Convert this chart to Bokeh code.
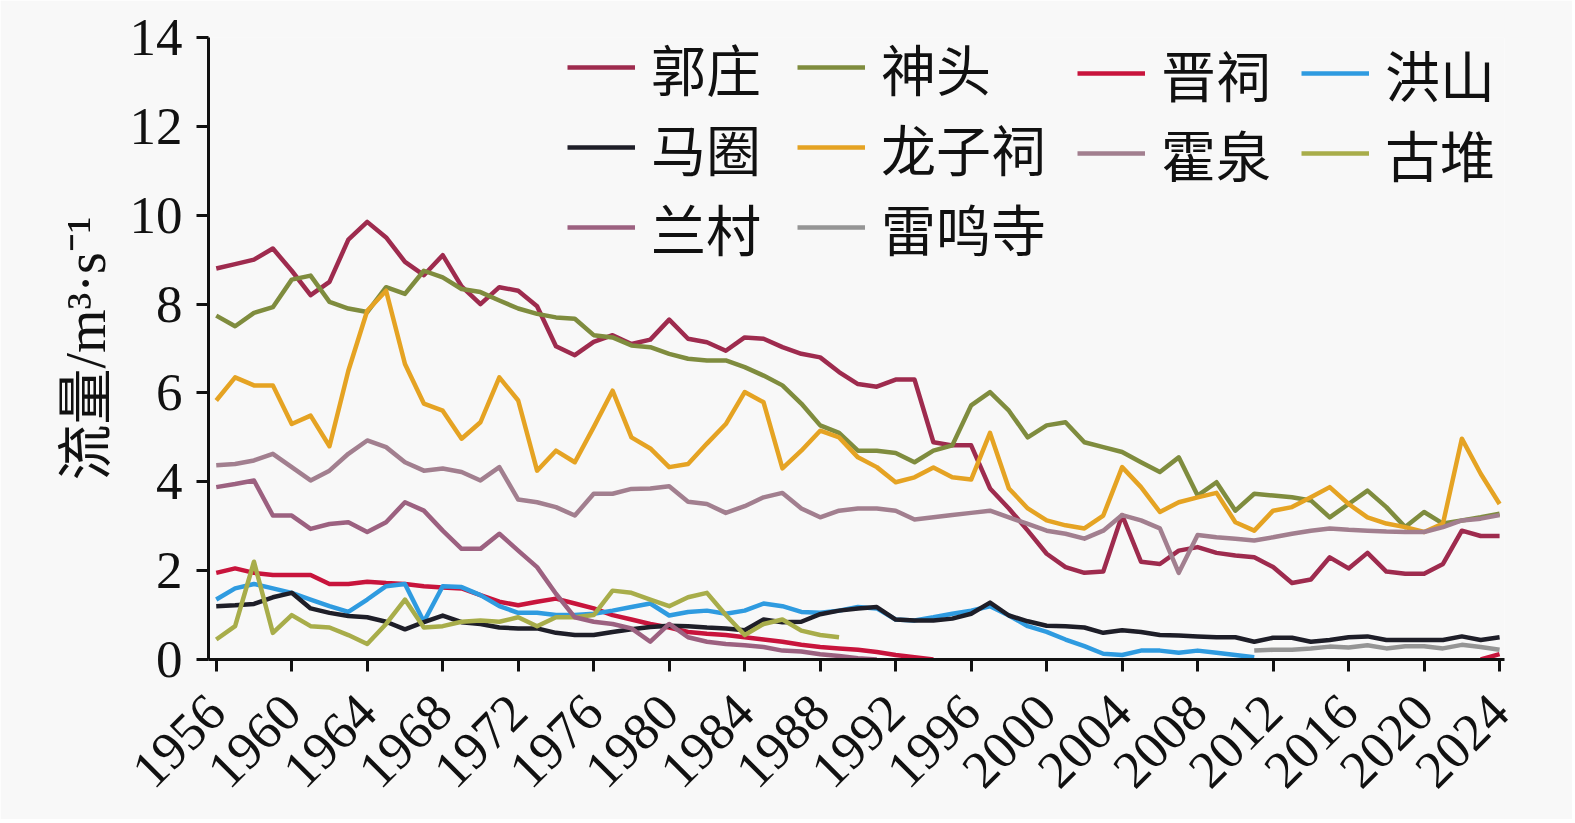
import math
from bokeh.plotting import figure
from bokeh.models import Range1d, Legend, LegendItem, FixedTicker
from bokeh.embed import file_html
from bokeh.resources import INLINE

nan = float("nan")

# ---- data (m3/s) ----
years_all = list(range(1956, 2025))

guozhuang = [8.8, 8.9, 9.0, 9.25, 8.75, 8.2, 8.5, 9.45, 9.85, 9.5,
             8.95, 8.65, 9.1, 8.4, 8.0, 8.38, 8.3, 7.95, 7.05, 6.85,
             7.15, 7.3, 7.1, 7.2, 7.65, 7.22, 7.14, 6.95, 7.25, 7.22,
             7.03, 6.88, 6.8, 6.47, 6.2, 6.14, 6.3, 6.3, 4.89, 4.82,
             4.82, 3.85, 3.4, 2.9, 2.38, 2.08, 1.95, 1.98, 3.25, 2.2,
             2.15, 2.45, 2.53, 2.4, 2.34, 2.3, 2.08, 1.72, 1.8, 2.3,
             2.05, 2.4, 1.98, 1.93, 1.93, 2.15, 2.9, 2.78, 2.78]

shentou = [7.74, 7.5, 7.8, 7.93, 8.55, 8.64, 8.05, 7.9, 7.82, 8.38,
           8.23, 8.75, 8.6, 8.34, 8.27, 8.08, 7.9, 7.78, 7.7, 7.67,
           7.3, 7.25, 7.07, 7.03, 6.88, 6.77, 6.73, 6.73, 6.58, 6.39,
           6.17, 5.76, 5.27, 5.1, 4.7, 4.7, 4.65, 4.44, 4.7, 4.82,
           5.72, 6.02, 5.6, 5.0, 5.27, 5.34, 4.89, 4.78, 4.67, 4.44,
           4.22, 4.55, 3.69, 3.99, 3.35, 3.73, 3.69, 3.65, 3.58, 3.2,
           3.5, 3.8, 3.43, 2.98, 3.32, 3.06, 3.13, 3.2, 3.28]

# 晋祠: 1956-1994, then no flow record until 2023-2024
jinci_years = list(range(1956, 1995)) + [2023, 2024]
jinci = [1.95, 2.05, 1.95, 1.9, 1.9, 1.9, 1.7, 1.7, 1.75, 1.72,
         1.7, 1.65, 1.62, 1.6, 1.45, 1.3, 1.22, 1.3, 1.37, 1.26,
         1.15, 1.0, 0.9, 0.8, 0.72, 0.62, 0.58, 0.55, 0.5, 0.45,
         0.4, 0.33, 0.28, 0.25, 0.22, 0.17, 0.1, 0.05, 0.0,
         0.0, 0.12]
jinci_gap_after = 1994

hongshan_years = list(range(1956, 2012))
hongshan = [1.35, 1.6, 1.7, 1.6, 1.5, 1.35, 1.2, 1.07, 1.35, 1.65,
            1.7, 0.85, 1.65, 1.63, 1.45, 1.2, 1.05, 1.05, 1.0, 1.0,
            1.03, 1.1, 1.18, 1.26, 0.99, 1.07, 1.1, 1.03, 1.1, 1.26,
            1.2, 1.07, 1.05, 1.1, 1.18, 1.15, 0.9, 0.88, 0.95, 1.03,
            1.1, 1.2, 0.99, 0.75, 0.62, 0.45, 0.3, 0.13, 0.1, 0.2,
            0.2, 0.15, 0.2, 0.15, 0.1, 0.05]

majuan = [1.2, 1.22, 1.25, 1.4, 1.5, 1.15, 1.05, 0.98, 0.95, 0.85,
          0.68, 0.84, 0.99, 0.84, 0.8, 0.72, 0.7, 0.7, 0.6, 0.55,
          0.55, 0.62, 0.68, 0.73, 0.76, 0.75, 0.72, 0.7, 0.66, 0.9,
          0.84, 0.85, 1.02, 1.1, 1.15, 1.18, 0.9, 0.88, 0.88, 0.92,
          1.03, 1.28, 0.99, 0.86, 0.76, 0.75, 0.72, 0.6, 0.66, 0.62,
          0.55, 0.54, 0.52, 0.5, 0.5, 0.4, 0.49, 0.49, 0.4, 0.44,
          0.5, 0.52, 0.44, 0.44, 0.44, 0.44, 0.52, 0.44, 0.5]

longzici = [5.83, 6.35, 6.17, 6.17, 5.3, 5.49, 4.8, 6.5, 7.85, 8.3,
            6.65, 5.76, 5.6, 4.97, 5.34, 6.35, 5.83, 4.25, 4.7, 4.44,
            5.23, 6.05, 5.0, 4.75, 4.33, 4.4, 4.86, 5.3, 6.02, 5.79,
            4.3, 4.7, 5.15, 5.0, 4.55, 4.33, 3.99, 4.1, 4.32, 4.1,
            4.05, 5.1, 3.85, 3.4, 3.13, 3.02, 2.95, 3.24, 4.33, 3.88,
            3.32, 3.54, 3.65, 3.75, 3.09, 2.9, 3.35, 3.43, 3.65, 3.88,
            3.5, 3.2, 3.06, 2.98, 2.87, 3.06, 4.97, 4.18, 3.5]

huoquan = [4.37, 4.4, 4.48, 4.63, 4.33, 4.03, 4.25, 4.63, 4.93, 4.78,
           4.44, 4.25, 4.3, 4.22, 4.03, 4.33, 3.6, 3.54, 3.43, 3.24,
           3.73, 3.73, 3.84, 3.85, 3.9, 3.55, 3.5, 3.3, 3.45, 3.65,
           3.75, 3.4, 3.2, 3.35, 3.4, 3.4, 3.35, 3.15, 3.2, 3.25,
           3.3, 3.35, 3.2, 3.05, 2.9, 2.83, 2.72, 2.9, 3.25, 3.13,
           2.95, 1.95, 2.8, 2.75, 2.72, 2.68, 2.75, 2.83, 2.9, 2.95,
           2.92, 2.9, 2.88, 2.87, 2.87, 2.98, 3.13, 3.17, 3.25]

gudui_years = list(range(1956, 1990))
gudui = [0.45, 0.75, 2.2, 0.6, 1.0, 0.75, 0.72, 0.55, 0.35, 0.8,
         1.35, 0.72, 0.75, 0.85, 0.88, 0.85, 0.95, 0.75, 0.95, 0.95,
         1.0, 1.55, 1.5, 1.35, 1.2, 1.4, 1.5, 1.0, 0.55, 0.8,
         0.9, 0.65, 0.55, 0.5]

lancun_years = list(range(1956, 1992))
lancun = [3.88, 3.95, 4.03, 3.24, 3.24, 2.94, 3.05, 3.09, 2.87, 3.09,
          3.54, 3.35, 2.9, 2.49, 2.49, 2.83, 2.45, 2.08, 1.48, 0.95,
          0.85, 0.8, 0.7, 0.4, 0.8, 0.5, 0.4, 0.35, 0.32, 0.28,
          0.2, 0.18, 0.12, 0.08, 0.03, 0.0]

leimingsi_years = list(range(2011, 2025))
leimingsi = [0.2, 0.22, 0.22, 0.25, 0.29, 0.27, 0.32, 0.25, 0.3, 0.3,
             0.25, 0.33, 0.28, 0.22]

x_ticks = list(range(1956, 2025, 4))
y_ticks = list(range(0, 15, 2))

# ---- figure ----
SERIF = "Liberation Serif, Noto Sans CJK SC"
BG = "#f8f8f8"

p = figure(output_backend="svg", toolbar_location=None,
           x_range=Range1d(1955.59, 2024.26), y_range=Range1d(0, 14),
           frame_width=1296, frame_height=622,
           min_border_left=208, min_border_right=68,
           min_border_top=37, min_border_bottom=160,
           background_fill_color=BG, border_fill_color=BG)
p.outline_line_color = None
p.grid.visible = False

p.xaxis.ticker = FixedTicker(ticks=x_ticks)
p.yaxis.ticker = FixedTicker(ticks=y_ticks)
for ax in (p.xaxis, p.yaxis):
    ax.axis_line_width = 3
    ax.axis_line_color = "#111111"
    ax.major_tick_line_width = 3
    ax.major_tick_line_color = "#111111"
    ax.major_tick_in = 0
    ax.major_tick_out = 12
    ax.minor_tick_line_color = None
    ax.major_label_text_font = SERIF
    ax.major_label_text_font_size = "53px"
    ax.major_label_text_color = "#111111"
p.xaxis.major_label_orientation = math.pi / 4
p.xaxis.major_label_standoff = 32
p.yaxis.major_label_standoff = 14
p.yaxis.axis_label = "流量/m³·s⁻¹"
p.yaxis.axis_label_text_font = SERIF
p.yaxis.axis_label_text_font_size = "56px"
p.yaxis.axis_label_text_font_style = "normal"
p.yaxis.axis_label_text_color = "#111111"
p.yaxis.axis_label_standoff = 10


def with_gap(xs, ys, after):
    gx, gy = [], []
    for xx, yy in zip(xs, ys):
        gx.append(xx)
        gy.append(yy)
        if xx == after:
            gx.append(after + 0.5)
            gy.append(nan)
    return gx, gy


jx, jy = with_gap(jinci_years, jinci, jinci_gap_after)

series = [
    ("郭庄", years_all, guozhuang, "#9e2b4e"),
    ("神头", years_all, shentou, "#7f8c3e"),
    ("晋祠", jx, jy, "#c8143c"),
    ("洪山", hongshan_years, hongshan, "#2f9be0"),
    ("马圈", years_all, majuan, "#1e1e28"),
    ("龙子祠", years_all, longzici, "#e5a323"),
    ("霍泉", years_all, huoquan, "#a27f8f"),
    ("古堆", gudui_years, gudui, "#a8ad4a"),
    ("兰村", lancun_years, lancun, "#9c6180"),
    ("雷鸣寺", leimingsi_years, leimingsi, "#959595"),
]

items = {}
for name, xs, ys, col in series:
    r = p.line(xs, ys, line_color=col, line_width=4.5, line_join="round")
    items[name] = LegendItem(label=name, renderers=[r])

# legend laid out as in the reference: 4 columns, split into two blocks
left_names = ["郭庄", "神头", "马圈", "龙子祠", "兰村", "雷鸣寺"]
right_names = ["晋祠", "洪山", "霍泉", "古堆"]

common = dict(orientation="horizontal", ncols=2, glyph_width=68,
              glyph_height=60, label_height=60, label_standoff=16,
              spacing=0, padding=0, margin=0, border_line_color=None,
              background_fill_alpha=0, label_text_font=SERIF,
              label_text_font_size="55px", label_text_color="#111111",
              label_text_baseline="middle")

legend_left = Legend(items=[items[n] for n in left_names],
                     location=(359, 392), label_width=146, **common)
legend_right = Legend(items=[items[n] for n in right_names],
                      location=(869, 466), label_width=140, **common)
p.add_layout(legend_left)
p.add_layout(legend_right)

open("out.html", "w").write(file_html(p, INLINE))
